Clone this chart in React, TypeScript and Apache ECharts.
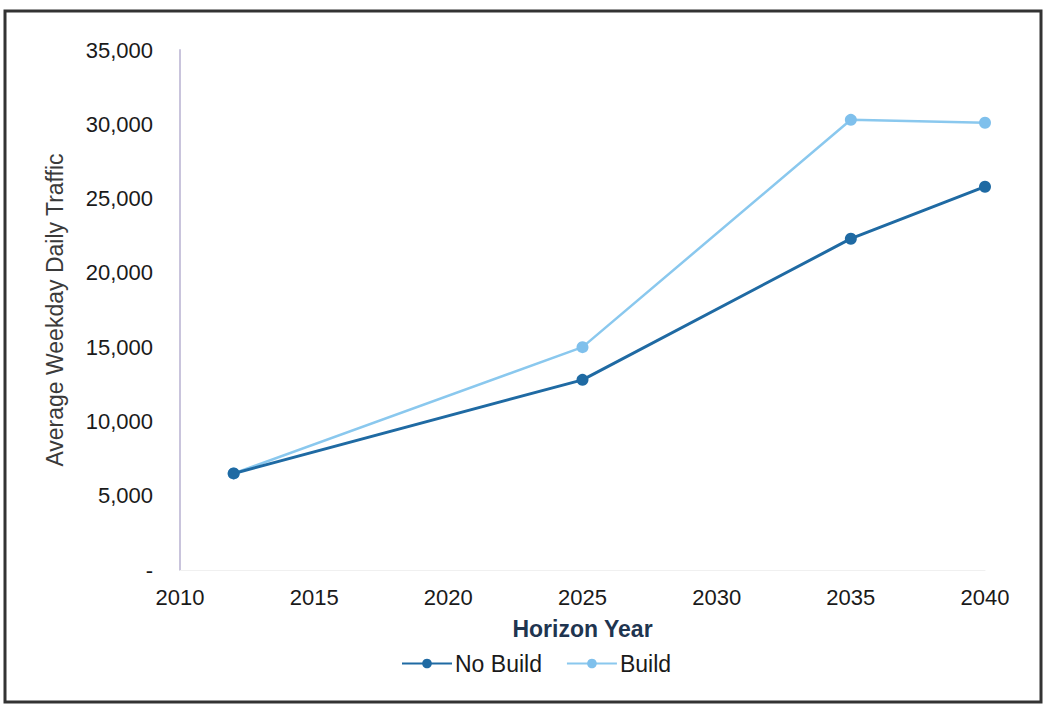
import React, { useEffect, useRef } from "react";
import * as echarts from "echarts";

// Horizon years and average weekday daily traffic per scenario
const years = [2012, 2025, 2035, 2040];
const noBuild = [6500, 12800, 22300, 25800];
const build = [6500, 15000, 30300, 30100];

const xTicks = [2010, 2015, 2020, 2025, 2030, 2035, 2040];
const yTicks = [0, 5000, 10000, 15000, 20000, 25000, 30000, 35000];

const FONT = "Liberation Sans, Arial, sans-serif";

export default function App() {
  const ref = useRef<HTMLDivElement>(null);

  useEffect(() => {
    document.body.style.margin = "0";
    if (!ref.current) return;
    const chart = echarts.init(ref.current, null, { renderer: "svg" });

    const pair = (vals: number[]) => years.map((y, i) => [y, vals[i]]);

    chart.setOption({
      animation: false,
      backgroundColor: "#ffffff",
      textStyle: { fontFamily: FONT },
      grid: { left: 180, right: 60, top: 50, bottom: 136 },
      xAxis: {
        type: "value",
        min: xTicks[0],
        max: xTicks[xTicks.length - 1],
        interval: 5,
        name: "Horizon Year",
        nameLocation: "middle",
        nameGap: 47,
        nameTextStyle: { fontSize: 23, color: "#1f3550", fontWeight: "bold", fontFamily: FONT },
        axisLine: { show: true, lineStyle: { color: "#f0f0f0", width: 1 } },
        axisTick: { show: false },
        splitLine: { show: false },
        axisLabel: {
          fontSize: 22,
          color: "#1a1a1a",
          margin: 16,
          fontFamily: FONT,
          formatter: (v: number) => String(v),
        },
      },
      yAxis: {
        type: "value",
        min: yTicks[0],
        max: yTicks[yTicks.length - 1],
        interval: 5000,
        name: "Average Weekday Daily Traffic",
        nameLocation: "middle",
        nameGap: 114,
        nameTextStyle: { fontSize: 23, color: "#3a3a3a", fontFamily: FONT },
        axisLine: { show: true, lineStyle: { color: "#c9c4dc", width: 2 } },
        axisTick: { show: false },
        splitLine: { show: false },
        axisLabel: {
          fontSize: 22,
          color: "#1a1a1a",
          margin: 27,
          fontFamily: FONT,
          formatter: (v: number) => (v === 0 ? "-" : v.toLocaleString("en-US")),
        },
      },
      legend: {
        bottom: 26,
        left: 396,
        itemWidth: 50,
        itemHeight: 12,
        itemGap: 24,
        textStyle: { fontSize: 23, color: "#1a1a1a", fontFamily: FONT, padding: [0, 0, 0, -2] },
        data: ["No Build", "Build"],
      },
      series: [
        {
          name: "No Build",
          type: "line",
          data: pair(noBuild),
          symbol: "circle",
          symbolSize: 12,
          lineStyle: { color: "#1f6aa3", width: 3 },
          itemStyle: { color: "#1f6aa3" },
          z: 3,
        },
        {
          name: "Build",
          type: "line",
          data: pair(build),
          symbol: "circle",
          symbolSize: 12,
          lineStyle: { color: "#8ac8ee", width: 2.5 },
          itemStyle: { color: "#7fc0ec" },
          z: 2,
        },
      ],
      graphic: [
        {
          type: "rect",
          shape: { x: 5, y: 11, width: 1036, height: 691 },
          style: { fill: "none", stroke: "#333333", lineWidth: 3 },
          silent: true,
        },
      ],
    });

    return () => chart.dispose();
  }, []);

  return <div ref={ref} style={{ width: 1045, height: 706 }} />;
}
